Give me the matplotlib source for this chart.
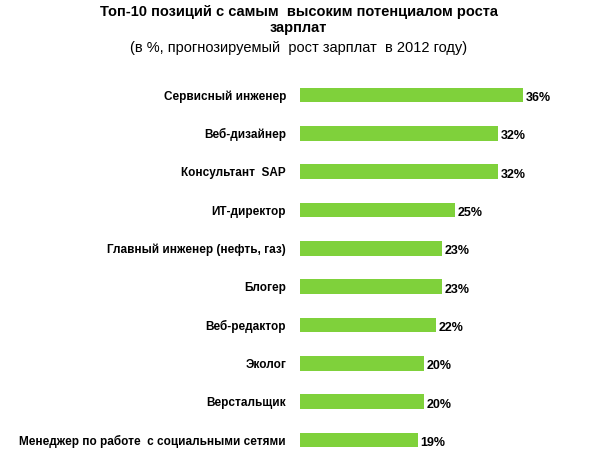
import matplotlib
matplotlib.use("Agg")
import matplotlib.pyplot as plt

categories = ["Сервисный инженер", "Веб-дизайнер", "Консультант  SAP", "ИТ-директор",
              "Главный инженер (нефть, газ)", "Блогер", "Веб-редактор", "Эколог",
              "Верстальщик", "Менеджер по работе  с социальными сетями"]
values = [36, 32, 32, 25, 23, 23, 22, 20, 20, 19]

plt.rcParams['font.family'] = ['Liberation Sans', 'DejaVu Sans']
fig = plt.figure(figsize=(5.97, 4.66), dpi=100)
ax = fig.add_axes([0.5025, 0.015, 0.415, 0.822])
y = list(range(len(categories)))
ax.barh(y, values, height=0.38, color="#7FD13B")
ax.set_xlim(0, 40)
ax.set_ylim(len(categories) - 0.5, -0.5)
ax.set_yticks(y)
ax.set_yticklabels(categories, fontsize=8.5, fontweight="bold")
ax.tick_params(axis="y", length=0, pad=10)
ax.set_xticks([])
for s in ax.spines.values():
    s.set_visible(False)
for yi, v in zip(y, values):
    ax.text(v + 0.4, yi + 0.08, f"{v}%", va="center", ha="left", fontsize=9, fontweight="bold")
fig.text(0.5, 0.99, "Топ-10 позиций с самым  высоким потенциалом роста\nзарплат",
         ha="center", va="top", fontsize=10.5, fontweight="bold", linespacing=1.2)
fig.text(0.5, 0.912, "(в %, прогнозируемый  рост зарплат  в 2012 году)",
         ha="center", va="top", fontsize=10.5)
fig.savefig("out.png", dpi=100)
